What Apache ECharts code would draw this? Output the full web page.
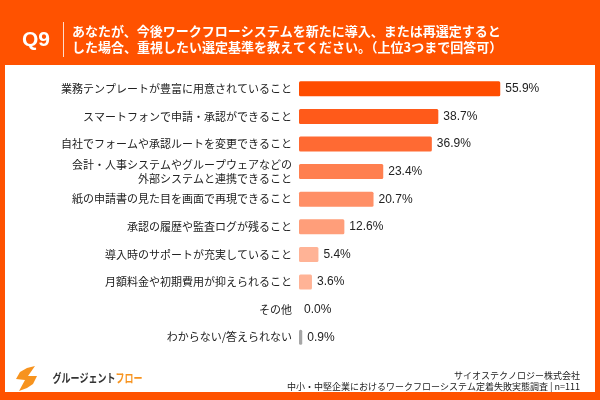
<!DOCTYPE html>
<html>
<head>
<meta charset="utf-8">
<script src="https://cdn.jsdelivr.net/npm/echarts@6/dist/echarts.min.js"></script>
<style>
html,body{margin:0;padding:0;background:#fff;}
#c{width:600px;height:400px;}
</style>
</head>
<body>
<div id="c"></div>
<script>
var categories = [
  '業務テンプレートが豊富に用意されていること',
  'スマートフォンで申請・承認ができること',
  '自社でフォームや承認ルートを変更できること',
  '会計・人事システムやグループウェアなどの\n外部システムと連携できること',
  '紙の申請書の見た目を画面で再現できること',
  '承認の履歴や監査ログが残ること',
  '導入時のサポートが充実していること',
  '月額料金や初期費用が抑えられること',
  'その他',
  'わからない/答えられない'
];
var values = [55.9, 38.7, 36.9, 23.4, 20.7, 12.6, 5.4, 3.6, 0.0, 0.9];
var barColors = ['#FF4D00','#FF5A1A','#FF6A33','#FF7F4F','#FF8F66','#FF9E7A','#FFB396','#FFB396','#FFB396','#A6A6A6'];
var titleLines = [
  'あなたが、今後ワークフローシステムを新たに導入、または再選定すると',
  'した場合、重視したい選定基準を教えてください。（上位3つまで回答可）'
];
var footerLines = [
  'サイオステクノロジー株式会社',
  '中小・中堅企業におけるワークフローシステム定着失敗実態調査 | n=111'
];

var FONT = "'Liberation Sans', 'Noto Sans CJK JP', sans-serif";
var JFONT = "'Noto Sans CJK JP', sans-serif";
var ORANGE = '#FF5200';

var chart = echarts.init(document.getElementById('c'), null, {renderer: 'canvas'});
chart.setOption({
  animation: false,
  backgroundColor: ORANGE,
  graphic: {elements: [
    {type: 'rect', z: -10, shape: {x: 5, y: 65, width: 590, height: 327}, style: {fill: '#fff'}},
    {type: 'text', x: 22, y: 40, style: {text: 'Q9', fill: '#fff', font: "bold 21px 'Liberation Sans', sans-serif", verticalAlign: 'middle'}},
    {type: 'rect', shape: {x: 63, y: 22, width: 1, height: 35}, style: {fill: 'rgba(255,255,255,0.8)'}},
    {type: 'text', x: 72, y: 31, style: {text: titleLines[0], fill: '#fff', font: "bold 13px " + JFONT, verticalAlign: 'middle'}},
    {type: 'text', x: 72, y: 47, style: {text: titleLines[1], fill: '#fff', font: "bold 13px " + JFONT, verticalAlign: 'middle'}},
    {type: 'text', x: 580, y: 376, style: {text: footerLines[0], fill: '#222', font: "9px " + JFONT, align: 'right', verticalAlign: 'middle'}},
    {type: 'text', x: 580, y: 387, style: {text: footerLines[1], fill: '#222', font: "9px " + JFONT, align: 'right', verticalAlign: 'middle'}},
    {type: 'polygon', shape: {points: [[35,366],[27,368],[20,372],[16,379],[25,380],[19,391],[27,388],[33,384],[37,376],[28,376]]}, style: {fill: '#F7931E'}},
    {type: 'text', x: 42, y: 378, scaleX: 0.75, originX: 42, originY: 378, style: {
      text: '{a|グルージェント}{b|フロー}', verticalAlign: 'middle',
      rich: {
        a: {fill: '#333', font: "bold 12px " + JFONT},
        b: {fill: '#F7931E', font: "bold 12px " + JFONT}
      }
    }}
  ]},
  grid: {left: 299, right: 85, top: 75, bottom: 49, containLabel: false},
  xAxis: {type: 'value', min: 0, max: 60, show: false},
  yAxis: {
    type: 'category', inverse: true, data: categories,
    axisLine: {show: false}, axisTick: {show: false},
    axisLabel: {margin: 7, color: '#222', fontSize: 11, lineHeight: 14, fontFamily: JFONT, align: 'right'}
  },
  series: [{
    type: 'bar',
    data: values.map(function (v, i) { return {value: v, itemStyle: {color: barColors[i]}}; }),
    barWidth: 15,
    itemStyle: {borderRadius: 1.5},
    label: {
      show: true, position: 'right', distance: 5, color: '#222', fontSize: 12, fontFamily: FONT,
      formatter: function (p) { return p.value.toFixed(1) + '%'; }
    }
  }]
});
</script>
</body>
</html>
